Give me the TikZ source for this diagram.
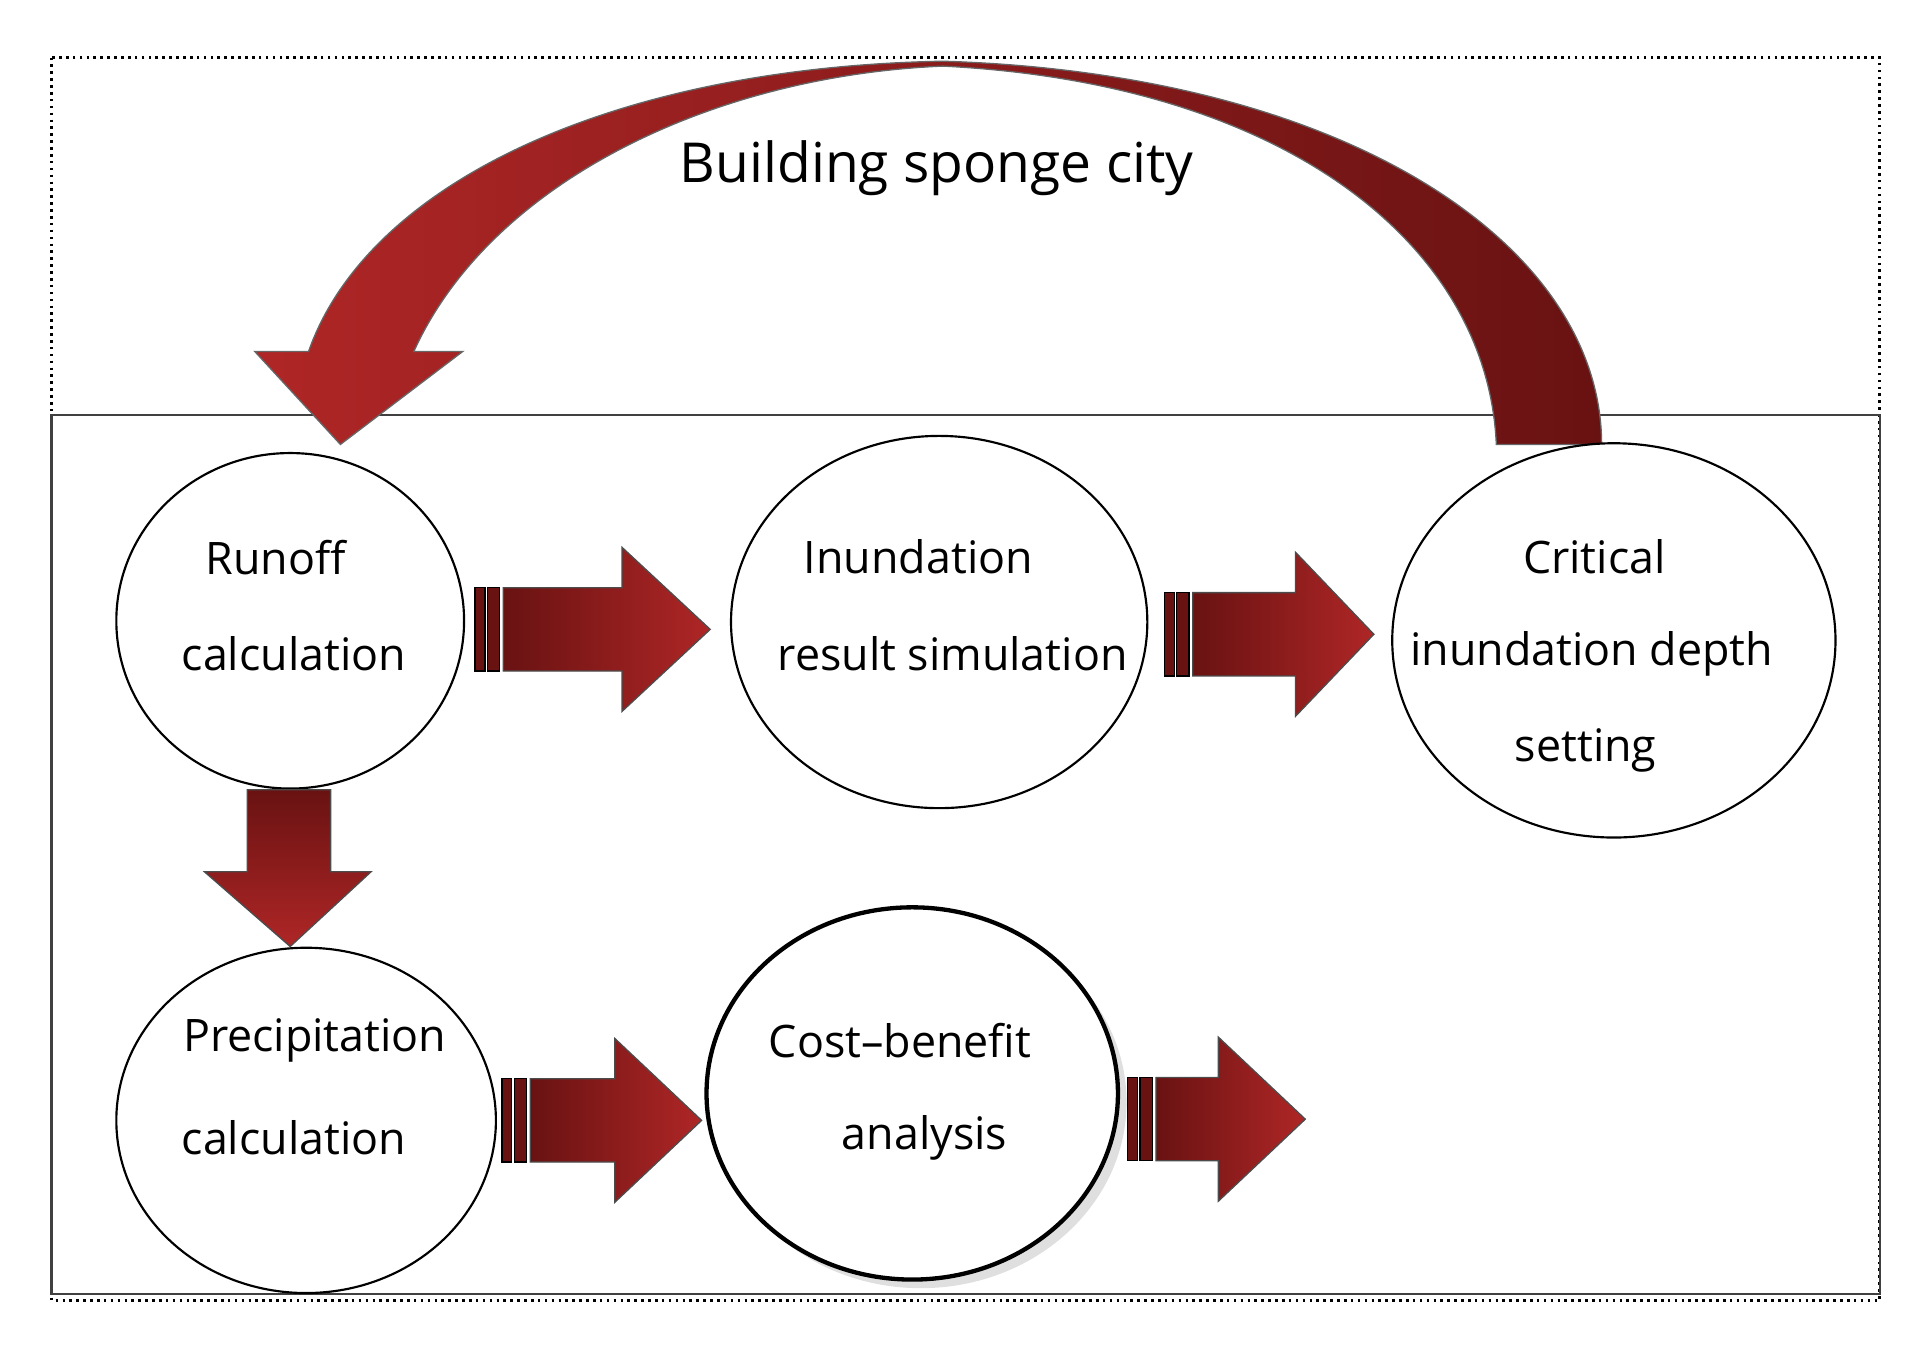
\documentclass[tikz,border=0pt]{standalone}
\usepackage{fontspec}
\setmainfont{Open Sans}
\usetikzlibrary{shadows}
\definecolor{arrred}{RGB}{175,38,38}
\definecolor{arrdark}{RGB}{105,18,18}
\tikzset{
 ell/.style={draw=black,fill=white,line width=0.5pt},
 blk/.style={draw=black!70,line width=0.3pt,left color=arrdark,right color=arrred},
 lbl/.style={font=\fontsize{10.4}{13}\selectfont,inner sep=0pt}
}
\begin{document}
\begin{tikzpicture}[x=0.01cm,y=-0.01cm]
\useasboundingbox (0,0) rectangle (1568,1101);
% frames
\draw[densely dotted,line width=0.6pt] (42,47) rectangle (1535,1062);
\draw[line width=0.5pt,black!75] (42,339) rectangle (1535,1057);
% big curved arrow
\path[draw=black!60,line width=0.3pt,left color=arrred,right color=arrdark]
 (1222,363) -- (1308,363) .. controls (1308,200) and (1100,60) .. (770,50)
 .. controls (500,55) and (300,150) .. (252,287) -- (208,287) -- (278,363) -- (378,287) -- (338,287)
 .. controls (400,150) and (580,62) .. (770,54) .. controls (1050,68) and (1215,200) .. (1222,363) -- cycle;
\node[lbl,font=\fontsize{12.8}{16}\selectfont] (title) at (765,137) {Building sponge city};
% ellipses
\draw[ell] (237,507) ellipse [x radius=142,y radius=137];
\draw[ell] (767,508) ellipse [x radius=170,y radius=152];
\draw[ell] (1318,523) ellipse [x radius=181,y radius=161];
\draw[ell] (250,915) ellipse [x radius=155,y radius=141];
\draw[ell,line width=1pt,drop shadow={opacity=0.25,shadow xshift=2pt,shadow yshift=-2pt}] (745,893) ellipse [x radius=168,y radius=152];
% texts
\node[lbl] (r1) at (225,455) {Runoff};
\node[lbl] (r2) at (240,534) {calculation};
\node[lbl] (i1) at (750,455) {Inundation};
\node[lbl] (i2) at (778,534) {result simulation};
\node[lbl] (c1) at (1302,455) {Critical};
\node[lbl] (c2) at (1300,534) {inundation depth};
\node[lbl] (c3) at (1295,613) {setting};
\node[lbl] (p1) at (257,850) {Precipitation};
\node[lbl] (p2) at (240,929) {calculation};
\node[lbl] (b1) at (735,850) {Cost–benefit};
\node[lbl] (b2) at (755,929) {analysis};
% block arrows
\foreach \a/\b/\t/\y/\h/\e in {388/508/580/514/34/67, 951/1058/1122/518/34/67, 410/502/573/915/34/67, 921/995/1066/914/34/67}{
 \fill[arrdark,draw=black,line width=0.3pt] (\a,\y-\h) rectangle (\a+8,\y+\h);
 \fill[arrdark,draw=black,line width=0.3pt] (\a+10,\y-\h) rectangle (\a+20,\y+\h);
 \path[blk] (\a+23,\y-\h) -- (\b,\y-\h) -- (\b,\y-\e) -- (\t,\y) -- (\b,\y+\e) -- (\b,\y+\h) -- (\a+23,\y+\h) -- cycle;
}
% down arrow
\path[draw=black!70,line width=0.3pt,top color=arrdark,bottom color=arrred]
 (202,645) -- (270,645) -- (270,712) -- (303,712) -- (237,773) -- (167,712) -- (202,712) -- cycle;
\end{tikzpicture}
\end{document}
